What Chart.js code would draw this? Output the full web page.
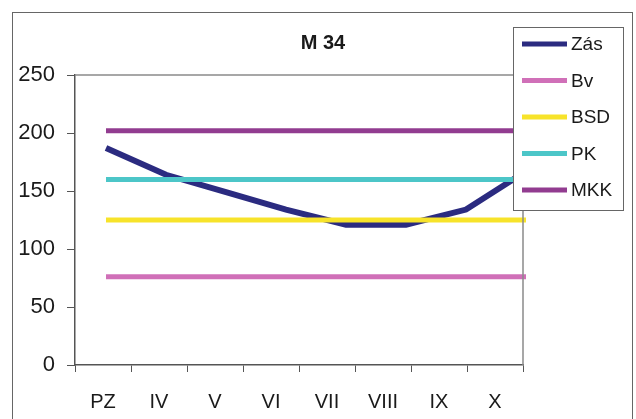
<!DOCTYPE html>
<html>
<head>
<meta charset="utf-8">
<script src="https://cdn.jsdelivr.net/npm/chart.js@4"></script>
<style>
  html, body { margin: 0; padding: 0; background: #fff; }
  #wrap { width: 636px; height: 419px; }
</style>
</head>
<body>
<div id="wrap"><canvas id="c" width="636" height="419"></canvas></div>
<script>
// ---- data ----
const chartTitle = 'M 34';
const categories = ['PZ', 'IV', 'V', 'VI', 'VII', 'VIII', 'IX', 'X'];
const yTicks = [0, 50, 100, 150, 200, 250];
const seriesNames = ['Zás', 'Bv', 'BSD', 'PK', 'MKK'];
const zas = [187, 164, 149, 134, 121, 121, 134, 167];
const bv  = [76, 76, 76, 76, 76, 76, 76, 76];
const bsd = [125, 125, 125, 125, 125, 125, 125, 125];
const pk  = [160, 160, 160, 160, 160, 160, 160, 160];
const mkk = [202, 202, 202, 202, 202, 202, 202, 202];
const seriesColors = ['#2B2B80', '#D070B8', '#F7E32A', '#4CC6C8', '#923C90'];

const allSeries = [zas, bv, bsd, pk, mkk];
const toPts = arr => arr.map((v, i) => ({ x: i, y: v }));

const FONT = "'Liberation Sans', Arial, sans-serif";
const TXT = '#1a1a1a';

const frameAndLegend = {
  id: 'frameAndLegend',
  beforeDraw(chart) {
    const ctx = chart.ctx;
    ctx.save();
    ctx.fillStyle = '#fff';
    ctx.fillRect(0, 0, chart.width, chart.height);
    ctx.strokeStyle = '#666';
    ctx.lineWidth = 1;
    ctx.strokeRect(12.5, 12.5, 620, 420);
    // title
    ctx.font = 'bold 20px ' + FONT;
    ctx.fillStyle = TXT;
    ctx.textAlign = 'center';
    ctx.textBaseline = 'middle';
    ctx.fillText(chartTitle, 323, 43);
    ctx.restore();
  },
  afterDatasetsDraw(chart) {
    const ctx = chart.ctx;
    const a = chart.chartArea;
    ctx.save();
    ctx.strokeStyle = '#8a8a8a';
    ctx.lineWidth = 1.5;
    ctx.beginPath();
    ctx.moveTo(a.left, a.top);
    ctx.lineTo(a.right, a.top);
    ctx.lineTo(a.right, a.bottom);
    ctx.stroke();
    ctx.restore();
  },
  afterDraw(chart) {
    const ctx = chart.ctx;
    ctx.save();
    const bx = 513.5, by = 27.5, bw = 110, bh = 183;
    ctx.fillStyle = '#fff';
    ctx.fillRect(bx, by, bw, bh);
    ctx.strokeStyle = '#666';
    ctx.lineWidth = 1;
    ctx.strokeRect(bx, by, bw, bh);
    ctx.font = '19px ' + FONT;
    ctx.textBaseline = 'middle';
    chart.data.datasets.forEach((ds, i) => {
      const y = 44 + i * 36.5;
      ctx.strokeStyle = ds.borderColor;
      ctx.lineWidth = 5;
      ctx.beginPath();
      ctx.moveTo(522, y);
      ctx.lineTo(567, y);
      ctx.stroke();
      ctx.fillStyle = TXT;
      ctx.fillText(ds.label, 571, y + 1);
    });
    ctx.restore();
  }
};

new Chart(document.getElementById('c'), {
  type: 'line',
  data: {
    labels: categories,
    datasets: seriesNames.map((name, i) => ({
      label: name,
      data: toPts(allSeries[i]),
      xAxisID: 'xd',
      borderColor: seriesColors[i],
      backgroundColor: seriesColors[i],
      borderWidth: i === 0 ? 6 : 5,
      pointRadius: 0,
      tension: 0,
      fill: false,
      clip: false,
      order: i === 0 ? 10 : 5 - i
    }))
  },
  options: {
    responsive: false,
    animation: false,
    events: [],
    layout: { padding: { left: 0, right: 113, top: 75, bottom: 0 } },
    plugins: {
      legend: { display: false },
      tooltip: { enabled: false },
      title: { display: false }
    },
    scales: {
      x: {
        type: 'category',
        labels: categories,
        offset: true,
        afterFit(s) { s.height = 54; },
        border: { display: true, color: '#555', width: 1.5 },
        grid: { offset: true, drawOnChartArea: false, drawTicks: true, tickLength: 7, color: '#555', lineWidth: 1 },
        ticks: { color: TXT, font: { family: FONT, size: 20 }, padding: 18, maxRotation: 0, autoSkip: false }
      },
      xd: {
        type: 'linear',
        display: false,
        min: -31 / 60,
        max: -31 / 60 + 448 / 60
      },
      y: {
        type: 'linear',
        min: 0,
        max: 250,
        afterFit(s) { s.width = 75; },
        afterBuildTicks(s) { s.ticks = yTicks.map(v => ({ value: v })); },
        border: { display: true, color: '#555', width: 1.5 },
        grid: { drawOnChartArea: false, drawTicks: true, tickLength: 8, color: '#555', lineWidth: 1 },
        ticks: { color: TXT, font: { family: FONT, size: 22 }, padding: 12 }
      }
    }
  },
  plugins: [frameAndLegend]
});
</script>
</body>
</html>
